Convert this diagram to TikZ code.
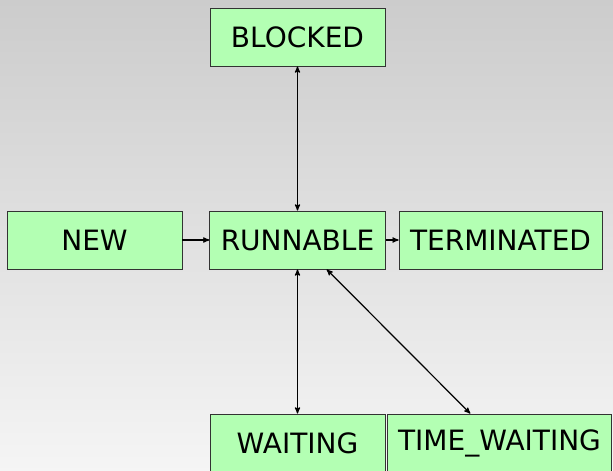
\documentclass[tikz,border=0pt]{standalone}
\usepackage{fontspec}
\setmainfont{DejaVu Sans}
\usetikzlibrary{arrows}
\definecolor{stategreen}{HTML}{B3FFB3}
\tikzset{
    state/.style = {rectangle,
                    fill=stategreen,
                    draw=black!80,
                    text=black,
                    thick,
                    inner xsep=11pt,
                    minimum width=175pt,
                    minimum height=58pt,
                    font=\fontsize{28}{32}\selectfont},
    -,
    link/.style =   {draw=black,
                    line width=1.2pt},
    >=stealth',
    node distance=203pt}

\begin{document}
\begin{tikzpicture}[x=1pt,y=1pt]
                \shade[top color=black!20,bottom color=black!4]
                    (-297.5,-231) rectangle (315.5,240);
                \useasboundingbox (-297.5,-231) rectangle (315.5,240);
                \node[state]       (run) []                    {RUNNABLE};
                \node[state]       (blk) [above of=run]        {BLOCKED};
                \node[state]       (new) [left of=run]         {NEW};
                \node[state]       (ter) [right of=run]        {TERMINATED};
                \node[state]       (wai) [below of=run]        {WAITING};
                \node[state]       (tim) [below of=ter,xshift=-1pt] {TIME\_WAITING};
                \draw[link,->]     (new) -- (run);
                \draw[link,->]     (run) -- (ter);
                \draw[link,<->]    (blk) -- (run);
                \draw[link,<->]    (run) -- (wai);
                \draw[link,<->]    (run) -- (tim);
        \end{tikzpicture}
\end{document}
